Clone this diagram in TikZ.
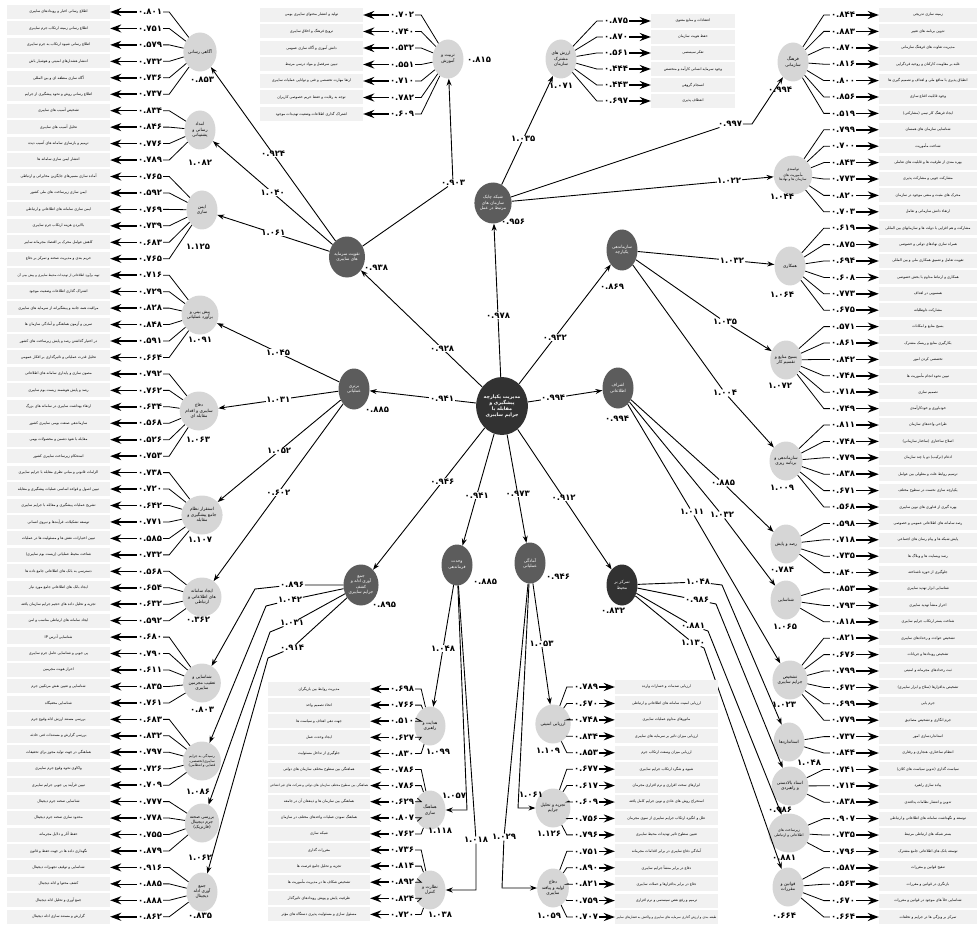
\documentclass[tikz,border=0pt]{standalone}
\usepackage{fontspec}
\setmainfont{DejaVu Sans}
\newfontfamily\farsi[Script=Arabic]{DejaVu Sans}
\TeXXeTstate=1
\usepackage{tikz}
\usetikzlibrary{arrows.meta,shapes.geometric}
\definecolor{Core_fill}{RGB}{50, 50, 50}
\definecolor{Dim_fill}{RGB}{92, 92, 92}
\definecolor{Sub_fill}{RGB}{214, 214, 214}
\definecolor{Box_fill}{RGB}{241, 241, 241}

\newcommand{\fa}[1]{{\farsi #1}}
\newcommand{\tight}[1]{{\fontsize{3.2}{4}\selectfont #1}}
\newcommand{\itemarr}{itemarrow}
% one indicator: box, value, arrow, line to its factor
\newcommand{\rowL}[8]{%
  \node[itembox, minimum width=#3] (#1b) at (#2,#5) {\fa{#8}};
  \node[itemval] (#1v) at (#4,#5) {#7};
  \draw[\itemarr] (#1v) -- (#1b);
  \draw[itemline] (#1v.east) -- ++(6,0) -- (#6);}
\newcommand{\rowR}[8]{%
  \node[itembox, minimum width=#3] (#1b) at (#2,#5) {\fa{#8}};
  \node[itemval] (#1v) at (#4,#5) {#7};
  \draw[\itemarr] (#1v) -- (#1b);
  \draw[itemline] (#1v.west) -- ++(-6,0) -- (#6);}
\newcommand{\lrow}[4]{\pgfmathsetmacro{\ry}{12+16.45*#1}\rowL{L#1}{58.5}{103pt}{150}{\ry}{#2}{#3}{#4}}
\newcommand{\rrow}[4]{\pgfmathsetmacro{\ry}{15+16.4*#1}\rowR{R#1}{928}{98pt}{843}{\ry}{#2}{#3}{#4}}
\newcommand{\trow}[3]{\pgfmathsetmacro{\ry}{15+16.5*#1}\rowL{T#1}{311.5}{103pt}{402}{\ry}{training}{#2}{#3}}
\newcommand{\vrow}[3]{\pgfmathsetmacro{\ry}{21+16*#1}\rowR{V#1}{693}{84pt}{616}{\ry}{values}{#2}{#3}}
\newcommand{\mrow}[4]{\pgfmathsetmacro{\ry}{689+16.1*#1}\rowL{M#1}{319}{102pt}{402}{\ry}{#2}{#3}{#4}}
\newcommand{\erow}[4]{\pgfmathsetmacro{\ry}{687+16.43*#1}\rowR{E#1}{666.5}{103pt}{586}{\ry}{#2}{#3}{#4}}

\tikzset{
  core/.style={ellipse, fill=Core_fill, text=white, minimum width=50pt, minimum height=58pt, inner sep=0pt, align=center, font=\bfseries\fontsize{4.8}{6}\selectfont},
  dim/.style={ellipse, fill=Dim_fill, text=white, minimum width=31pt, minimum height=41pt, inner sep=0pt, align=center, font=\fontsize{4.3}{5.4}\selectfont},
  sub/.style={ellipse, fill=Sub_fill, minimum width=31pt, minimum height=39pt, inner sep=0pt, align=center, font=\fontsize{4.3}{5.4}\selectfont},
  itembox/.style={fill=Box_fill, minimum height=14pt, inner sep=1pt, font=\fontsize{3.6}{4.3}\selectfont},
  itemval/.style={inner sep=1pt, font=\bfseries\fontsize{8.5}{10}\selectfont},
  itemarrow/.style={line width=1.6pt, -{Stealth[length=11pt,width=8pt]}},
  thinarrow/.style={line width=0.5pt, -{Stealth[length=11pt,width=8pt]}},
  itemline/.style={line width=0.8pt},
  edgearrow/.style={line width=0.9pt, -{Stealth[length=7pt,width=5pt]}},
  elabel/.style={fill=white, inner sep=0.6pt, font=\bfseries\fontsize{8.5}{9}\selectfont},
  vlabel/.style={inner sep=0.5pt, font=\bfseries\fontsize{8.5}{9}\selectfont},
}

\begin{document}
\begin{tikzpicture}[x=1pt,y=-1pt]
    \useasboundingbox (0,0) rectangle (977,928);

    %% Core
    \node[core] (core) at (502,406) {\fa{\beginR مدیریت یکپارچه\endR}\\\fa{\beginR پیشگیری و\endR}\\\fa{\beginR مقابله با\endR}\\\fa{\beginR جرایم سایبری\endR}};

    %% First ring
    \node[dim] (network) at (493,203) {\fa{\beginR شبکه چابک\endR}\\\fa{\beginR سازمان های\endR}\\\fa{\beginR مرتبط در عمل\endR}};
    \node[dim] (capital) at (347,257) {\fa{\beginR تقویت سرمایه\endR}\\\fa{\beginR های سایبری\endR}};
    \node[dim] (superior) at (354,389) {\fa{برتری}\\\fa{عملیاتی}};
    \node[dim] (collect) at (361,585) {\fa{جمع}\\\fa{\beginR آوری ادله و\endR}\\\fa{کشف}\\\fa{\beginR جرایم سایبری\endR}};
    \node[dim] (command) at (457,565) {\fa{وحدت}\\\fa{فرماندهی}};
    \node[dim] (ready) at (530,563) {\fa{آمادگی}\\\fa{عملیاتی}};
    \node[dim, fill=Core_fill] (environ) at (622,585) {\fa{\beginR تمرکز بر\endR}\\\fa{محیط}};
    \node[dim] (intel) at (618,388) {\fa{اشراف}\\\fa{اطلاعاتی}};
    \node[dim] (organize) at (622,250) {\fa{سازماندهی}\\\fa{یکپارچه}};
    \node[vlabel] (vnetwork) at (513,222) {۰.۹۵۶};
    \node[vlabel] (vcapital) at (376,268) {۰.۹۳۸};
    \node[vlabel] (vsuperior) at (377,410) {۰.۸۸۵};
    \node[vlabel] (vcollect) at (384,605) {۰.۸۹۵};
    \node[vlabel] (vcommand) at (485,582) {۰.۸۸۵};
    \node[vlabel] (vready) at (558,577) {۰.۹۴۶};
    \node[vlabel] (venviron) at (613,611) {۰.۸۳۲};
    \node[vlabel] (vintel) at (617,419) {۰.۹۹۴};
    \node[vlabel] (vorganize) at (612,287) {۰.۸۶۹};

    % core -> first ring
    \draw[edgearrow] (core) -- node[elabel,pos=0.4] (e_net) {۰.۹۷۸} (network);
    \draw[edgearrow] (core) -- node[elabel,pos=0.33] (e_cap) {۰.۹۲۸} (capital);
    \draw[edgearrow] (core) -- node[elabel,pos=0.32] (e_sup) {۰.۹۴۱} (superior);
    \draw[edgearrow] (core) -- node[elabel,pos=0.38] (e_col) {۰.۹۴۶} (collect);
    \draw[edgearrow] (core) -- node[elabel,pos=0.55] (e_com) {۰.۹۴۱} (command);
    \draw[edgearrow] (core) -- node[elabel,pos=0.55] (e_rdy) {۰.۹۷۳} (ready);
    \draw[edgearrow] (core) -- node[elabel,pos=0.49] (e_env) {۰.۹۱۲} (environ);
    \draw[edgearrow] (core) -- node[elabel,pos=0.34] (e_int) {۰.۹۹۴} (intel);
    \draw[edgearrow] (core) -- node[elabel,pos=0.39] (e_org) {۰.۹۳۲} (organize);

    %% Second ring, left
    \node[sub] (aware) at (200,52) {\fa{\beginR آگاهی رسانی\endR}};
    \node[sub] (relief) at (200,130) {\fa{امداد}\\\fa{\beginR رسانی و\endR}\\\fa{پشتیبانی}};
    \node[sub] (secure) at (202,210) {\fa{ایمن}\\\fa{سازی}};
    \node[sub] (forecast) at (200,315) {\fa{\beginR پیش بینی و\endR}\\\fa{\beginR برآورد عملیاتی\endR}};
    \node[sub] (cyberdef) at (199,411) {\fa{دفاع}\\\fa{\beginR سایبری و اقدام\endR}\\\fa{\beginR مقابله ای\endR}};
    \node[sub] (prevsys) at (202,515) {\fa{\beginR استقرار نظام\endR}\\\fa{\beginR جامع پیشگیری و\endR}\\\fa{مقابله}};
    \node[sub] (infosys) at (202,597) {\fa{\beginR ایجاد سامانه\endR}\\\fa{\beginR های اطلاعاتی و\endR}\\\fa{ارتباطی}};
    \node[sub] (pursue) at (202,683) {\fa{\beginR شناسایی و\endR}\\\fa{\beginR تعقیب مجرمین\endR}\\\fa{سایبری}};
    \node[sub, font=\fontsize{3.5}{4.4}\selectfont] (trial) at (202,761) {\fa{\beginR رسیدگی به جرایم\endR}\\\fa{\beginR سایبری(تخصصی،\endR}\\\fa{\beginR قضایی و انتظامی)\endR}};
    \node[sub] (forensic) at (202,823) {\fa{\beginR بررسی صحنه\endR}\\\fa{\beginR جرم دیجیتال\endR}\\\fa{(فارنزیک)}};
    \node[sub] (evidence) at (202,892) {\fa{جمع}\\\fa{\beginR آوری ادله\endR}\\\fa{دیجیتال}};
    \node[vlabel] (vaware) at (202,80) {۰.۸۵۳};
    \node[vlabel] (vrelief) at (200,163) {۱.۰۸۲};
    \node[vlabel] (vsecure) at (198,247) {۱.۱۲۵};
    \node[vlabel] (vforecast) at (200,340) {۱.۰۹۱};
    \node[vlabel] (vcyberdef) at (198,440) {۱.۰۶۳};
    \node[vlabel] (vprevsys) at (200,540) {۱.۱۰۷};
    \node[vlabel] (vinfosys) at (198,620) {۰.۳۶۲};
    \node[vlabel] (vpursue) at (202,710) {۰.۸۰۳};
    \node[vlabel] (vtrial) at (198,792) {۱.۰۸۶};
    \node[vlabel] (vforensic) at (200,858) {۱.۰۶۲};
    \node[vlabel] (vevidence) at (200,916) {۰.۸۳۵};

    % capital, superior -> left
    \draw[edgearrow] (capital) -- node[elabel] (e_aw) {۰.۹۲۴} (aware);
    \draw[edgearrow] (capital) -- node[elabel] (e_rl) {۱.۰۴۰} (relief);
    \draw[edgearrow] (capital) -- node[elabel] (e_sc) {۱.۰۶۱} (secure);
    \draw[edgearrow] (superior) -- node[elabel] (e_fc) {۱.۰۴۵} (forecast);
    \draw[edgearrow] (superior) -- node[elabel] (e_cd) {۱.۰۳۱} (cyberdef);
    \draw[edgearrow] (superior) -- node[elabel] (e_ps) {۱.۰۵۲} (prevsys);
    \draw[edgearrow] (superior) -- node[elabel] (e_is) {۰.۶۰۲} (infosys);
    % collect -> left
    \node[elabel] (e_pu) at (292,585) {۰.۸۹۶};
    \node[elabel] (e_tr) at (290,600) {۱.۰۴۲};
    \node[elabel] (e_fo) at (292,623) {۱.۰۳۱};
    \node[elabel] (e_ev) at (292,648) {۰.۹۱۴};
    \coordinate (b_pu) at (255,589);
    \coordinate (b_tr) at (266,606);
    \coordinate (b_fo) at (270,632);
    \coordinate (b_ev) at (268,658);
    \draw[edgearrow] (collect) -- (e_pu) -- (b_pu) -- (pursue);
    \draw[edgearrow] (collect) -- (e_tr) -- (b_tr) -- (trial);
    \draw[edgearrow] (collect) -- (e_fo) -- (b_fo) -- (forensic);
    \draw[edgearrow] (collect) -- (e_ev) -- (b_ev) -- (evidence);

    %% Second ring, top
    \node[sub] (training) at (448,59) {\fa{\beginR تربیت و\endR}\\\fa{آموزش}};
    \node[sub] (values) at (561,59) {\fa{\beginR ارزش های\endR}\\\fa{مشترک}\\\fa{سازمان}};
    \node[vlabel] (vtraining) at (479,60) {۰.۸۱۵};
    \node[vlabel] (vvalues) at (561,86) {۱.۰۷۱};
    \node[elabel] (e_tn) at (453,183) {۰.۹۰۳};
    \draw[edgearrow] (capital) -- (e_tn) -- (training);
    \draw[edgearrow] (network) -- node[elabel,pos=0.42] (e_va) {۱.۰۳۵} (values);

    %% Second ring, right
    \node[sub] (culture) at (793,62) {\fa{فرهنگ}\\\fa{سازمانی}};
    \node[sub, font=\fontsize{3.5}{4.4}\selectfont] (capacity) at (793,175) {\fa{توانمندی}\\\fa{\beginR مأموریت های\endR}\\\fa{\beginR سازمان ها و نهادها\endR}};
    \node[sub] (coop) at (790,266) {\fa{همکاری}};
    \node[sub] (mobil) at (786,360) {\fa{\beginR بسیج منابع و\endR}\\\fa{\beginR تقسیم کار\endR}};
    \node[sub] (planning) at (786,461) {\fa{\beginR سازماندهی و\endR}\\\fa{\beginR برنامه ریزی\endR}};
    \node[sub] (monitor) at (786,544) {\fa{\beginR رصد و پایش\endR}};
    \node[sub] (identify) at (786,600) {\fa{شناسایی}};
    \node[sub] (detect) at (790,680) {\fa{تشخیص}\\\fa{\beginR جرایم سایبری\endR}};
    \node[sub] (standards) at (789,742) {\fa{استانداردها}};
    \node[sub] (docs) at (790,786) {\fa{\beginR اسناد بالادستی\endR}\\\fa{\beginR و راهبردی\endR}};
    \node[sub, font=\fontsize{3.6}{4.5}\selectfont] (infra) at (789,833) {\fa{\beginR زیرساخت های\endR}\\\fa{\beginR اطلاعاتی و ارتباطی\endR}};
    \node[sub] (laws) at (788,887) {\fa{\beginR قوانین و\endR}\\\fa{مقررات}};
    \node[vlabel] (vculture) at (780,90) {۰.۹۹۴};
    \node[vlabel] (vcapacity) at (782,197) {۱.۰۴۴};
    \node[vlabel] (vcoop) at (782,295) {۱.۰۶۴};
    \node[vlabel] (vmobil) at (780,386) {۱.۰۷۲};
    \node[vlabel] (vplanning) at (782,488) {۱.۰۰۹};
    \node[vlabel] (vmonitor) at (782,570) {۰.۷۸۴};
    \node[vlabel] (videntify) at (785,627) {۱.۰۶۵};
    \node[vlabel] (vdetect) at (784,705) {۱.۰۲۳};
    \node[vlabel] (vstandards) at (809,763) {۱.۰۴۸};
    \node[vlabel] (vdocs) at (780,810) {۰.۹۸۶};
    \node[vlabel] (vinfra) at (784,858) {۰.۸۸۱};
    \node[vlabel] (vlaws) at (784,916) {۰.۶۶۴};

    % network, organize -> right
    \node[elabel] (e_cu) at (730,124) {۰.۹۹۷};
    \coordinate (b_cu) at (752,124);
    \draw[edgearrow] (network) -- (e_cu) -- (b_cu) -- (culture);
    \draw[edgearrow] (network) -- node[elabel,pos=0.83] (e_ca) {۱.۰۲۲} (capacity);
    \draw[edgearrow] (organize) -- node[elabel,pos=0.69] (e_co) {۱.۰۳۲} (coop);
    \node[elabel] (e_mo) at (725,322) {۱.۰۳۵};
    \node[elabel] (e_pl) at (725,393) {۱.۰۰۴};
    \draw[edgearrow] (organize) -- (e_mo) -- (mobil);
    \draw[edgearrow] (organize) -- (e_pl) -- (planning);
    % intel -> right
    \node[elabel] (e_mn) at (723,483) {۰.۸۸۵};
    \node[elabel] (e_id) at (722,515) {۱.۰۳۲};
    \node[elabel] (e_dt) at (692,512) {۱.۰۱۱};
    \draw[edgearrow] (intel) -- (e_mn) -- (monitor);
    \draw[edgearrow] (intel) -- (e_id) -- (identify);
    \draw[edgearrow] (intel) -- (e_dt) -- (detect);
    % environ -> right
    \node[elabel] (e_st) at (698,582) {۱.۰۴۸};
    \node[elabel] (e_dc) at (697,600) {۰.۹۸۶};
    \node[elabel] (e_in) at (693,626) {۰.۸۸۱};
    \node[elabel] (e_lw) at (693,643) {۱.۱۳۰};
    \coordinate (b_st) at (722,585);
    \coordinate (b_dc) at (716,604);
    \coordinate (b_in) at (708,631);
    \coordinate (b_lw) at (704,648);
    \draw[edgearrow] (environ) -- (e_st) -- (b_st) -- (standards);
    \draw[edgearrow] (environ) -- (e_dc) -- (b_dc) -- (docs);
    \draw[edgearrow] (environ) -- (e_in) -- (b_in) -- (infra);
    \draw[edgearrow] (environ) -- (e_lw) -- (b_lw) -- (laws);

    %% Second ring, bottom
    \node[sub] (guide) at (430,726) {\fa{\beginR هدایت و\endR}\\\fa{راهبری}};
    \node[sub] (coord) at (430,810) {\fa{هماهنگ}\\\fa{سازی}};
    \node[sub] (control) at (430,890) {\fa{\beginR نظارت و\endR}\\\fa{کنترل}};
    \node[sub] (assess) at (553,724) {\fa{\beginR ارزیابی امنیتی\endR}};
    \node[sub] (analysis) at (553,808) {\fa{\beginR تجزیه و تحلیل\endR}\\\fa{جرایم}};
    \node[sub] (defence) at (553,888) {\fa{دفاع}\\\fa{\beginR اولیه و پیافند\endR}\\\fa{سایبری}};
    \node[vlabel] (vguide) at (438,752) {۱.۰۹۹};
    \node[vlabel] (vcoord) at (440,831) {۱.۱۱۸};
    \node[vlabel] (vcontrol) at (440,915) {۱.۰۳۸};
    \node[vlabel] (vassess) at (548,751) {۱.۱۰۹};
    \node[vlabel] (vanalysis) at (549,834) {۱.۱۲۶};
    \node[vlabel] (vdefence) at (549,916) {۱.۰۵۹};

    % command, ready -> bottom
    \draw[edgearrow] (command) -- node[elabel,pos=0.52] (e_gu) {۱.۰۴۸} (guide);
    \coordinate (b_cr) at (467,810);
    \node[vlabel] (e_cr) at (454,796) {۱.۰۵۷};
    \draw[edgearrow] (command) -- (b_cr) -- (coord);
    \node[elabel] (e_ct) at (476,840) {۱.۰۱۸};
    \coordinate (b_ct) at (476,890);
    \draw[edgearrow] (command) -- (e_ct) -- (b_ct) -- (control);
    \draw[edgearrow] (ready) -- node[elabel,pos=0.5] (e_as) {۱.۰۵۳} (assess);
    \coordinate (b_an) at (518,808);
    \node[vlabel] (e_an) at (531,795) {۱.۰۶۱};
    \draw[edgearrow] (ready) -- (b_an) -- (analysis);
    \node[elabel] (e_df) at (504,837) {۱.۰۲۹};
    \coordinate (b_df) at (502,888);
    \draw[edgearrow] (ready) -- (e_df) -- (b_df) -- (defence);

    %% Indicators, left column
    \lrow{0}{aware}{۰.۸۰۱}{\beginR اطلاع رسانی اخبار و رویدادهای سایبری\endR}
    \lrow{1}{aware}{۰.۷۵۱}{\beginR اطلاع رسانی زمینه ارتکاب جرم سایبری\endR}
    \lrow{2}{aware}{۰.۵۷۹}{\beginR اطلاع رسانی شیوه ارتکاب به جرم سایبری\endR}
    \lrow{3}{aware}{۰.۷۳۲}{\beginR انتشار هشدارهای امنیتی و هوشیار باش\endR}
    \lrow{4}{aware}{۰.۷۳۶}{\beginR آگاه سازی منطقه ای و بین المللی\endR}
    \lrow{5}{aware}{۰.۷۳۷}{\beginR اطلاع رسانی روش و نحوه پیشگیری از جرایم\endR}
    \lrow{6}{relief}{۰.۸۳۴}{\beginR تشخیص آسیب های سایبری\endR}
    \lrow{7}{relief}{۰.۸۴۶}{\beginR تحلیل آسیب های سایبری\endR}
    \lrow{8}{relief}{۰.۷۷۶}{\beginR ترمیم و بازسازی سامانه های آسیب دیده\endR}
    \lrow{9}{relief}{۰.۷۸۹}{\beginR انتشار ایمن سازی سامانه ها\endR}
    \lrow{10}{secure}{۰.۷۶۵}{\beginR آماده سازی مسیرهای جایگزین مخابراتی و ارتباطی\endR}
    \lrow{11}{secure}{۰.۵۹۲}{\beginR ایمن سازی زیرساخت های ملی کشور\endR}
    \lrow{12}{secure}{۰.۷۶۹}{\beginR ایمن سازی سامانه های اطلاعاتی و ارتباطی\endR}
    \lrow{13}{secure}{۰.۷۳۹}{\beginR بالابردن هزینه ارتکاب جرم سایبری\endR}
    \lrow{14}{secure}{۰.۶۸۳}{\beginR کاهش عوامل محرک بر اقتصاد مجرمانه سایبر\endR}
    \lrow{15}{secure}{۰.۷۶۵}{\beginR حریم بندی و مدیریت صحنه و تمرکز بر دفاع\endR}
    \lrow{16}{forecast}{۰.۷۱۶}{\tight{\beginR تهیه برآورد اطلاعاتی از تهدیدات محیط سایبری و پیش بینی آن\endR}}
    \lrow{17}{forecast}{۰.۷۲۹}{\beginR اشتراک گذاری اطلاعات وضعیت موجود\endR}
    \lrow{18}{forecast}{۰.۸۲۸}{\beginR مراقبت همه جانبه و پیشگیرانه از سرمایه های سایبری\endR}
    \lrow{19}{forecast}{۰.۸۴۸}{\beginR تمرین و آزمون هماهنگی و آمادگی سازمان ها\endR}
    \lrow{20}{forecast}{۰.۵۹۱}{\beginR در اختیار گذاشتن رصد و پایش زیرساخت های کشور\endR}
    \lrow{21}{forecast}{۰.۶۶۴}{\beginR تحلیل قدرت عملیاتی و تاثیرگذاری بر افکار عمومی\endR}
    \lrow{22}{cyberdef}{۰.۷۹۲}{\beginR مصون سازی و پایداری سامانه های اطلاعاتی\endR}
    \lrow{23}{cyberdef}{۰.۷۶۲}{\beginR رصد و پایش هوشمند زیست بوم سایبری\endR}
    \lrow{24}{cyberdef}{۰.۶۳۴}{\beginR ارتقاء بهداشت سایبری در سامانه های بزرگ\endR}
    \lrow{25}{cyberdef}{۰.۵۶۸}{\beginR سازماندهی صنعت بومی سایبری کشور\endR}
    \lrow{26}{cyberdef}{۰.۵۲۶}{\beginR مقابله با نفوذ دشمن و محصولات بومی\endR}
    \lrow{27}{cyberdef}{۰.۷۵۳}{\beginR استحکام زیرساخت سایبری کشور\endR}
    \lrow{28}{prevsys}{۰.۷۳۸}{\beginR الزامات قانونی و مبانی نظری مقابله با جرایم سایبری\endR}
    \lrow{29}{prevsys}{۰.۷۲۰}{\beginR تبیین اصول و قواعد اساسی عملیات پیشگیری و مقابله\endR}
    \lrow{30}{prevsys}{۰.۶۴۲}{\beginR تشریح عملیات پیشگیری و مقابله با جرایم سایبری\endR}
    \lrow{31}{prevsys}{۰.۷۷۱}{\beginR توسعه تشکیلات، فرآیندها و نیروی انسانی\endR}
    \lrow{32}{prevsys}{۰.۵۸۵}{\beginR تبیین اختیارات، نقش ها و مسئولیت ها در عملیات\endR}
    \lrow{33}{prevsys}{۰.۷۳۲}{\beginR شناخت محیط عملیاتی (زیست بوم سایبری)\endR}
    \lrow{34}{infosys}{۰.۵۶۸}{\beginR دسترسی به بانک های اطلاعاتی جامع داده ها\endR}
    \lrow{35}{infosys}{۰.۶۵۴}{\beginR ایجاد بانک های اطلاعاتی جامع مورد نیاز\endR}
    \lrow{36}{infosys}{۰.۶۳۲}{\beginR تجزیه و تحلیل داده های حجیم جرایم سازمان یافته\endR}
    \lrow{37}{infosys}{۰.۵۹۲}{\beginR ایجاد سامانه های ارتباطی مناسب و امن\endR}
    \lrow{38}{pursue}{۰.۶۸۰}{\beginR شناسایی آدرس IP\endR}
    \lrow{39}{pursue}{۰.۷۹۰}{\beginR پی جویی و شناسایی عامل جرم سایبری\endR}
    \lrow{40}{pursue}{۰.۶۱۱}{\beginR احراز هویت مجرمین\endR}
    \lrow{41}{pursue}{۰.۸۳۵}{\beginR شناسایی و تعیین نقش مرتکبین جرم\endR}
    \lrow{42}{pursue}{۰.۷۶۱}{\beginR شناسایی مخفیگاه\endR}
    \lrow{43}{trial}{۰.۶۸۳}{\beginR بررسی مستند ارزش ادله وقوع جرم\endR}
    \lrow{44}{trial}{۰.۸۳۲}{\beginR بررسی گزارش و مستندات فنی حادثه\endR}
    \lrow{45}{trial}{۰.۷۹۷}{\beginR هماهنگی در جهت تولید مجوز برای تحقیقات\endR}
    \lrow{46}{trial}{۰.۷۲۶}{\beginR واکاوی نحوه وقوع جرم سایبری\endR}
    \lrow{47}{trial}{۰.۷۰۹}{\beginR تبیین فرآیند پی جویی جرایم سایبری\endR}
    \lrow{48}{forensic}{۰.۷۷۷}{\beginR شناسایی صحنه جرم دیجیتال\endR}
    \lrow{49}{forensic}{۰.۷۷۸}{\beginR محدود سازی صحنه جرم دیجیتال\endR}
    \lrow{50}{forensic}{۰.۷۵۵}{\beginR حفظ آثار و دلایل مجرمانه\endR}
    \lrow{51}{forensic}{۰.۸۷۹}{\beginR نگهداری داده ها در جهت حفظ و قانون\endR}
    \lrow{52}{evidence}{۰.۹۱۶}{\beginR شناسایی و توقیف تجهیزات دیجیتال\endR}
    \renewcommand{\itemarr}{thinarrow}
    \lrow{53}{evidence}{۰.۸۸۵}{\beginR کشف محتوا و ادله دیجیتال\endR}
    \renewcommand{\itemarr}{itemarrow}
    \lrow{54}{evidence}{۰.۸۸۸}{\beginR جمع آوری و تحلیل ادله دیجیتال\endR}
    \lrow{55}{evidence}{۰.۸۶۲}{\beginR گزارش و مستند سازی ادله دیجیتال\endR}

    %% Indicators, top
    \trow{0}{۰.۷۰۲}{\beginR تولید و انتشار محتوای سایبری بومی\endR}
    \trow{1}{۰.۷۴۰}{\beginR ترویج فرهنگ و اخلاق سایبری\endR}
    \trow{2}{۰.۵۳۲}{\beginR دانش آموزی و آگاه سازی عمومی\endR}
    \trow{3}{۰.۵۵۱}{\beginR تبیین سرفصل و مواد درسی مرتبط\endR}
    \trow{4}{۰.۷۱۰}{\beginR ارتقا مهارت تخصصی و فنی و توانایی عملیات سایبری\endR}
    \trow{5}{۰.۷۸۲}{\beginR توجه به رقابت و حفظ حریم خصوصی کاربران\endR}
    \trow{6}{۰.۶۰۹}{\beginR اشتراک گذاری اطلاعات وضعیت تهدیدات موجود\endR}
    \vrow{0}{۰.۸۷۵}{\beginR اعتقادات و منابع معنوی\endR}
    \vrow{1}{۰.۸۷۰}{\beginR حفظ هویت سازمان\endR}
    \vrow{2}{۰.۵۶۱}{\beginR تفکر سیستمی\endR}
    \vrow{3}{۰.۴۴۴}{\beginR وجود سرمایه انسانی کارآمد و متخصص\endR}
    \vrow{4}{۰.۴۴۳}{\beginR انسجام گروهی\endR}
    \vrow{5}{۰.۶۹۷}{\beginR انعطاف پذیری\endR}

    %% Indicators, right column
    \rrow{0}{culture}{۰.۸۴۴}{\beginR زمینه سازی تدریجی\endR}
    \rrow{1}{culture}{۰.۸۸۳}{\beginR تدوین برنامه های تغییر\endR}
    \rrow{2}{culture}{۰.۸۷۰}{\beginR مدیریت تفاوت های فرهنگ سازمانی\endR}
    \rrow{3}{culture}{۰.۸۱۶}{\beginR غلبه بر مقاومت کارکنان و روحیه فردگرایی\endR}
    \rrow{4}{culture}{۰.۸۰۰}{\beginR انطباق پذیری با منافع ملی و اهداف و تصمیم گیری ها\endR}
    \rrow{5}{culture}{۰.۸۵۶}{\beginR وجود قابلیت اقناع سازی\endR}
    \rrow{6}{culture}{۰.۵۱۹}{\beginR ایجاد فرهنگ کار تیمی (مشارکتی)\endR}
    \rrow{7}{capacity}{۰.۷۹۹}{\beginR شناسایی سازمان های همسان\endR}
    \rrow{8}{capacity}{۰.۷۰۰}{\beginR شناخت مأموریت\endR}
    \rrow{9}{capacity}{۰.۸۴۳}{\beginR بهره مندی از ظرفیت ها و قابلیت های تعاملی\endR}
    \rrow{10}{capacity}{۰.۷۷۳}{\beginR مشارکت جویی و مشارکت پذیری\endR}
    \rrow{11}{capacity}{۰.۸۲۰}{\beginR محرک های مثبت و منفی موجود در سازمان\endR}
    \rrow{12}{capacity}{۰.۷۰۳}{\beginR ارتقاء دانش سازمانی و تعامل\endR}
    \rrow{13}{coop}{۰.۶۱۹}{\beginR مشارکت و هم افزایی با دولت ها و سازمانهای بین المللی\endR}
    \rrow{14}{coop}{۰.۸۷۵}{\beginR همراه سازی نهادهای دولتی و خصوصی\endR}
    \rrow{15}{coop}{۰.۶۹۴}{\beginR تقویت تعامل و تعمیق همکاری ملی و بین المللی\endR}
    \rrow{16}{coop}{۰.۶۰۸}{\beginR همکاری و ارتباط مداوم با بخش خصوصی\endR}
    \rrow{17}{coop}{۰.۷۷۳}{\beginR همسویی در اهداف\endR}
    \rrow{18}{coop}{۰.۶۷۵}{\beginR مشارکت داوطلبانه\endR}
    \rrow{19}{mobil}{۰.۵۷۱}{\beginR بسیج منابع و امکانات\endR}
    \rrow{20}{mobil}{۰.۸۶۱}{\beginR بکارگیری منابع و ریسک مشترک\endR}
    \rrow{21}{mobil}{۰.۸۴۲}{\beginR تخصصی کردن امور\endR}
    \rrow{22}{mobil}{۰.۷۴۸}{\beginR تبیین نحوه انجام مأموریت ها\endR}
    \rrow{23}{mobil}{۰.۷۱۸}{\beginR تصمیم سازی\endR}
    \rrow{24}{mobil}{۰.۷۴۹}{\beginR خودباوری و خودکارآمدی\endR}
    \rrow{25}{planning}{۰.۸۱۱}{\beginR طراحی واحدهای سازمان\endR}
    \rrow{26}{planning}{۰.۷۴۸}{\beginR اصلاح ساختاری (ساختار سازمانی)\endR}
    \rrow{27}{planning}{۰.۷۷۹}{\beginR ادغام (ترکیب) دو یا چند سازمان\endR}
    \rrow{28}{planning}{۰.۸۳۸}{\beginR ترسیم روابط علت و معلولی بین عوامل\endR}
    \rrow{29}{planning}{۰.۶۷۱}{\beginR یکپارچه سازی نخست در سطوح مختلف\endR}
    \rrow{30}{planning}{۰.۵۶۸}{\beginR بهره گیری از فناوری های نوین سایبری\endR}
    \rrow{31}{monitor}{۰.۵۹۸}{\beginR رصد سامانه های اطلاعاتی عمومی و خصوصی\endR}
    \rrow{32}{monitor}{۰.۷۱۸}{\beginR پایش شبکه ها و پیام رسان های اجتماعی\endR}
    \rrow{33}{monitor}{۰.۷۳۵}{\beginR رصد وبسایت ها و وبلاگ ها\endR}
    \rrow{34}{monitor}{۰.۸۴۰}{\beginR جلوگیری از حوزه ناشناخته\endR}
    \rrow{35}{identify}{۰.۸۵۳}{\beginR شناسایی ابزار تهدید سایبری\endR}
    \rrow{36}{identify}{۰.۷۹۳}{\beginR احراز منشأ تهدید سایبری\endR}
    \rrow{37}{identify}{۰.۸۱۸}{\beginR شناخت بستر ارتکاب جرایم سایبری\endR}
    \rrow{38}{detect}{۰.۸۲۱}{\beginR تشخیص حوادث و رخدادهای سایبری\endR}
    \rrow{39}{detect}{۰.۶۷۶}{\beginR تشخیص رویدادها و جریانات\endR}
    \rrow{40}{detect}{۰.۷۹۹}{\beginR ثبت رخدادهای مجرمانه و امنیتی\endR}
    \rrow{41}{detect}{۰.۶۷۲}{\beginR تشخیص بدافزارها (سلاح و ابزار سایبری)\endR}
    \rrow{42}{detect}{۰.۶۹۹}{\beginR جرم یابی\endR}
    \rrow{43}{detect}{۰.۷۷۹}{\beginR جرم انگاری و تشخیص مصادیق\endR}
    \rrow{44}{standards}{۰.۷۳۷}{\beginR استانداردسازی امور\endR}
    \rrow{45}{standards}{۰.۸۴۴}{\beginR انتظام ساختاری، هنجاری و رفتاری\endR}
    \rrow{46}{docs}{۰.۷۴۱}{\beginR سیاست گذاری (تدوین سیاست های کلان)\endR}
    \rrow{47}{docs}{۰.۷۱۴}{\beginR پیاده سازی راهبرد\endR}
    \rrow{48}{docs}{۰.۸۳۸}{\beginR تدوین و انتشار نظامات پدافندی\endR}
    \rrow{49}{infra}{۰.۹۰۷}{\beginR توسعه و نگهداشت سامانه های اطلاعاتی و ارتباطی\endR}
    \rrow{50}{infra}{۰.۷۳۵}{\beginR بستر شبکه های ارتباطی مرتبط\endR}
    \rrow{51}{infra}{۰.۷۹۶}{\beginR توسعه بانک های اطلاعاتی جامع مشترک\endR}
    \rrow{52}{laws}{۰.۵۸۷}{\beginR تنقیح قوانین و مقررات\endR}
    \rrow{53}{laws}{۰.۵۶۳}{\beginR بازنگری در قوانین و مقررات\endR}
    \rrow{54}{laws}{۰.۶۷۰}{\beginR شناسایی خلأ های موجود در قوانین و مقررات\endR}
    \rrow{55}{laws}{۰.۶۶۴}{\beginR تمرکز بر ویژگی ها در جرایم و تخلفات\endR}

    %% Indicators, bottom
    \mrow{0}{guide}{۰.۶۹۸}{\beginR مدیریت روابط بین بازیگران\endR}
    \mrow{1}{guide}{۰.۷۶۶}{\beginR اتخاذ تصمیم واحد\endR}
    \mrow{2}{guide}{۰.۵۱۰}{\beginR جهت دهی اهداف و سیاست ها\endR}
    \mrow{3}{guide}{۰.۶۲۷}{\beginR ایجاد وحدت عمل\endR}
    \mrow{4}{guide}{۰.۸۳۰}{\beginR جلوگیری از تداخل مسئولیت\endR}
    \mrow{5}{coord}{۰.۷۸۶}{\beginR هماهنگی بین سطوح مختلف سازمان های دولتی\endR}
    \mrow{6}{coord}{۰.۷۸۶}{\tight{\beginR هماهنگی بین سطوح مختلف سازمان های دولتی و شرکت های غیر انتفاعی\endR}}
    \mrow{7}{coord}{۰.۶۲۹}{\beginR هماهنگی بین سازمان ها و ذینفعان آن در جامعه\endR}
    \mrow{8}{coord}{۰.۸۰۷}{\beginR هماهنگ نمودن عملیات واحدهای مختلف در سازمان\endR}
    \mrow{9}{coord}{۰.۷۶۲}{\beginR شبکه سازی\endR}
    \mrow{10}{control}{۰.۷۳۶}{\beginR مقررات گذاری\endR}
    \mrow{11}{control}{۰.۸۱۴}{\beginR تجزیه و تحلیل جامع فرصت ها\endR}
    \mrow{12}{control}{۰.۸۹۲}{\beginR تشخیص شکاف ها در مدیریت مأموریت ها\endR}
    \mrow{13}{control}{۰.۸۲۴}{\beginR ظرفیت پایش و پویش رویدادهای تاثیرگذار\endR}
    \mrow{14}{control}{۰.۷۲۰}{\beginR مسئول سازی و مسئولیت پذیری دستگاه های مؤثر\endR}
    \erow{0}{assess}{۰.۷۸۹}{\beginR ارزیابی صدمات و خسارات وارده\endR}
    \erow{1}{assess}{۰.۶۷۰}{\beginR ارزیابی امنیت سامانه های اطلاعاتی و ارتباطی\endR}
    \erow{2}{assess}{۰.۷۴۸}{\beginR مانورهای مداوم عملیات سایبری\endR}
    \erow{3}{assess}{۰.۸۳۴}{\beginR ارزیابی میزان تاثیر بر سرمایه های سایبری\endR}
    \erow{4}{assess}{۰.۸۵۳}{\beginR ارزیابی میزان وسعت ارتکاب جرم\endR}
    \erow{5}{analysis}{۰.۶۷۷}{\beginR شیوه و شگرد ارتکاب جرایم سایبری\endR}
    \erow{6}{analysis}{۰.۶۱۷}{\beginR ابزارهای سخت افزاری و نرم افزاری مجرمان\endR}
    \erow{7}{analysis}{۰.۶۰۹}{\beginR استخراج روش های عادی و نوین جرایم کامل یافته\endR}
    \erow{8}{analysis}{۰.۷۵۶}{\beginR علل و انگیزه ارتکاب جرایم سایبری از سوی مجرمان\endR}
    \erow{9}{analysis}{۰.۷۹۶}{\beginR تعیین سطوح تاثیر تهدیدات محیط سایبری\endR}
    \erow{10}{defence}{۰.۷۵۱}{\beginR آمادگی دفاع سایبری در برابر اقدامات مجرمانه\endR}
    \erow{11}{defence}{۰.۸۹۰}{\beginR دفاع در برابر منشأ جرایم سایبری\endR}
    \erow{12}{defence}{۰.۸۲۱}{\beginR دفاع در برابر بدافزارها و حملات سایبری\endR}
    \erow{13}{defence}{۰.۷۵۹}{\beginR ترمیم و رفع نقص سیستمی و نرم افزاری\endR}
    \erow{14}{defence}{۰.۷۰۷}{\tight{\beginR طبقه بندی و ارزش گذاری سرمایه های سایبری و واکنش به فشارهای سایبر\endR}}
\end{tikzpicture}
\end{document}
